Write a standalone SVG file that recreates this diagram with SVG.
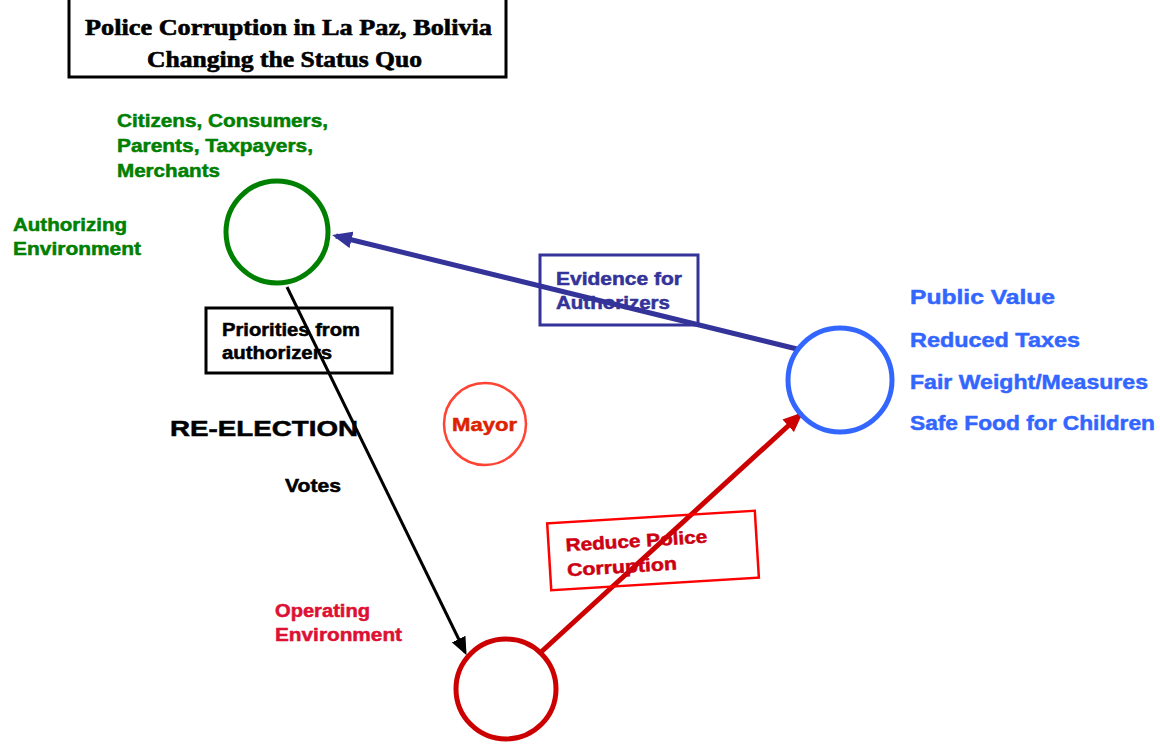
<svg xmlns="http://www.w3.org/2000/svg" width="1160" height="746" viewBox="0 0 1160 746">
<style>
.t{font-family:"Liberation Sans",Arial,sans-serif;font-weight:bold;stroke:currentColor;stroke-width:0.5}
.title{font-family:"Liberation Serif","Times New Roman",serif;font-weight:bold;font-size:23px;stroke:#000;stroke-width:0.6}
.g{fill:#008000;color:#008000;font-size:18px}
.b{fill:#3366ff;color:#3366ff;font-size:21px}
.r{fill:#dd1133;color:#dd1133;font-size:18px}
</style>
<defs>
<marker id="ab" viewBox="0 0 10 10" refX="8" refY="5" markerWidth="4" markerHeight="3.4" orient="auto" markerUnits="strokeWidth" preserveAspectRatio="none"><path d="M0,0 L10,5 L0,10 z" fill="#333399"/></marker>
<marker id="ak" viewBox="0 0 10 10" refX="8" refY="5" markerWidth="6" markerHeight="5" orient="auto" markerUnits="strokeWidth" preserveAspectRatio="none"><path d="M0,0 L10,5 L0,10 z" fill="#000"/></marker>
<marker id="ar" viewBox="0 0 10 10" refX="8" refY="5" markerWidth="4" markerHeight="3.4" orient="auto" markerUnits="strokeWidth" preserveAspectRatio="none"><path d="M0,0 L10,5 L0,10 z" fill="#cc0000"/></marker>
</defs>
<rect width="1160" height="746" fill="#fff"/>
<g id="title">
<path d="M69,0 V77 H506 V0" fill="none" stroke="#000" stroke-width="3"/>
<text class="title" x="85" y="35" textLength="407" lengthAdjust="spacingAndGlyphs">Police Corruption in La Paz, Bolivia</text>
<text class="title" x="147" y="67" textLength="275" lengthAdjust="spacingAndGlyphs">Changing the Status Quo</text>
</g>
<g id="connectors">
<line x1="797" y1="349" x2="336" y2="236" stroke="#333399" stroke-width="5" marker-end="url(#ab)"/>
<line x1="287" y1="287" x2="465" y2="652" stroke="#000" stroke-width="3" marker-end="url(#ak)"/>
<line x1="540" y1="653" x2="800" y2="415" stroke="#cc0000" stroke-width="5" marker-end="url(#ar)"/>
</g>
<g id="authorizing">
<circle cx="277" cy="232" r="51" fill="none" stroke="#008000" stroke-width="5"/>
<text class="t g" x="117" y="127" textLength="211" lengthAdjust="spacingAndGlyphs">Citizens, Consumers,</text>
<text class="t g" x="117" y="152" textLength="196" lengthAdjust="spacingAndGlyphs">Parents, Taxpayers,</text>
<text class="t g" x="117" y="177" textLength="103" lengthAdjust="spacingAndGlyphs">Merchants</text>
<text class="t g" x="13" y="231" textLength="114" lengthAdjust="spacingAndGlyphs">Authorizing</text>
<text class="t g" x="13" y="255" textLength="128" lengthAdjust="spacingAndGlyphs">Environment</text>
</g>
<g id="evidence">
<rect x="540" y="255" width="158" height="70" fill="none" stroke="#333399" stroke-width="3"/>
<text class="t" x="556" y="285" fill="#333399" color="#333399" font-size="18" textLength="126" lengthAdjust="spacingAndGlyphs">Evidence for</text>
<text class="t" x="556" y="309" fill="#333399" color="#333399" font-size="18" textLength="114" lengthAdjust="spacingAndGlyphs">Authorizers</text>
</g>
<g id="priorities">
<rect x="206" y="308" width="186" height="65" fill="none" stroke="#000" stroke-width="3"/>
<text class="t" x="222" y="336" font-size="18" color="#000" textLength="138" lengthAdjust="spacingAndGlyphs">Priorities from</text>
<text class="t" x="222" y="359" font-size="18" color="#000" textLength="110" lengthAdjust="spacingAndGlyphs">authorizers</text>
</g>
<g id="public-value">
<circle cx="840" cy="380" r="52" fill="none" stroke="#3366ff" stroke-width="5"/>
<text class="t b" x="910" y="304" textLength="145" lengthAdjust="spacingAndGlyphs">Public Value</text>
<text class="t b" x="910" y="347" textLength="170" lengthAdjust="spacingAndGlyphs">Reduced Taxes</text>
<text class="t b" x="910" y="389" textLength="238" lengthAdjust="spacingAndGlyphs">Fair Weight/Measures</text>
<text class="t b" x="910" y="430" textLength="245" lengthAdjust="spacingAndGlyphs">Safe Food for Children</text>
</g>
<g id="reelection">
<text class="t" x="170" y="436" font-size="22" color="#000" textLength="188" lengthAdjust="spacingAndGlyphs">RE-ELECTION</text>
<text class="t" x="285" y="492" font-size="18" color="#000" textLength="56" lengthAdjust="spacingAndGlyphs">Votes</text>
</g>
<g id="mayor">
<circle cx="485" cy="424" r="41" fill="none" stroke="#ff4433" stroke-width="2.5"/>
<text class="t" x="452" y="431" font-size="19" fill="#dd2200" color="#dd2200" textLength="65" lengthAdjust="spacingAndGlyphs">Mayor</text>
</g>
<g id="reduce" transform="rotate(-3.5 653 550)">
<rect x="549" y="517" width="208" height="67" fill="none" stroke="#ff0000" stroke-width="2.5"/>
<text class="t" x="566" y="546" font-size="18" fill="#cc0011" color="#cc0011" textLength="142" lengthAdjust="spacingAndGlyphs">Reduce Police</text>
<text class="t" x="566" y="571" font-size="18" fill="#cc0011" color="#cc0011" textLength="110" lengthAdjust="spacingAndGlyphs">Corruption</text>
</g>
<g id="operating">
<circle cx="506" cy="689" r="50" fill="none" stroke="#cc0000" stroke-width="5"/>
<text class="t r" x="275" y="617" textLength="95" lengthAdjust="spacingAndGlyphs">Operating</text>
<text class="t r" x="275" y="641" textLength="127" lengthAdjust="spacingAndGlyphs">Environment</text>
</g>
</svg>
